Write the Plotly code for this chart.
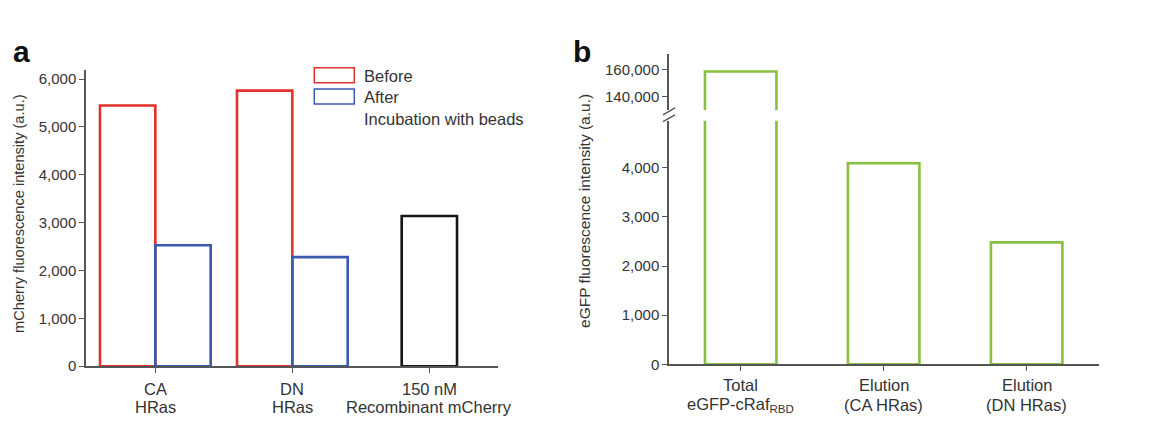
import plotly.graph_objects as go

# ---- data -------------------------------------------------------------
cat_a = [("CA", "HRas"), ("DN", "HRas"), ("150 nM", "Recombinant mCherry")]
before_vals = [5450, 5760]          # mCherry before incubation with beads
after_vals = [2530, 2280]           # mCherry after incubation with beads
standard_vals = [3140]              # 150 nM recombinant mCherry

cat_b = [("Total", "eGFP-cRaf<sub>RBD</sub>"), ("Elution", "(CA HRas)"),
         ("Elution", "(DN HRas)")]
egfp_vals = [158400, 4090, 2480]

ticks_a = [0, 1000, 2000, 3000, 4000, 5000, 6000]
ticks_b_low = [0, 1000, 2000, 3000, 4000]
ticks_b_high = [140000, 160000]

# ---- styling ----------------------------------------------------------
W, H = 1170, 423
FONT = "Liberation Sans, Arial, sans-serif"
TXT = "#333333"
AX = "#555555"
RED = "#e2312f"
BLUE = "#3a5aad"
GREEN = "#86c03f"
BLACK = "#161616"
LW = 2.6


def px_x(x):
    return x / W


def px_y(y):
    return (H - y) / H


idx_a = list(range(len(cat_a)))
idx_b = list(range(len(cat_b)))
bw_a = 0.404
bw_b = 0.50

fig = go.Figure()

# panel a: before / after pairs share a category tick at their common edge
fig.add_trace(go.Bar(x=idx_a[:2], y=before_vals, width=bw_a, offset=-bw_a,
                     marker=dict(color="rgba(0,0,0,0)", line=dict(color=RED, width=LW)),
                     name="Before", xaxis="x", yaxis="y"))
fig.add_trace(go.Bar(x=idx_a[:2], y=after_vals, width=bw_a, offset=0,
                     marker=dict(color="rgba(0,0,0,0)", line=dict(color=BLUE, width=LW)),
                     name="After", xaxis="x", yaxis="y"))
fig.add_trace(go.Bar(x=idx_a[2:], y=standard_vals, width=bw_a, offset=-bw_a / 2,
                     marker=dict(color="rgba(0,0,0,0)", line=dict(color=BLACK, width=LW)),
                     name="Standard", xaxis="x", yaxis="y"))

# panel b: broken axis -> same bars on a low and a high segment
for xa, ya in (("x2", "y2"), ("x3", "y3")):
    fig.add_trace(go.Bar(x=idx_b, y=egfp_vals, width=bw_b, offset=-bw_b / 2,
                         marker=dict(color="rgba(0,0,0,0)", line=dict(color=GREEN, width=LW)),
                         xaxis=xa, yaxis=ya))

tickfont = dict(family=FONT, size=15, color=TXT)
labfont = dict(family=FONT, size=16.5, color=TXT)

yax_common = dict(showline=True, linecolor=AX, linewidth=1.5, ticks="outside",
                  ticklen=5, tickcolor=AX, tickwidth=1.3, showgrid=False,
                  zeroline=False, tickfont=tickfont, tickformat=",d")
xax_common = dict(showline=True, linecolor=AX, linewidth=1.5, ticks="outside",
                  ticklen=5, tickcolor=AX, tickwidth=1.3, showgrid=False,
                  zeroline=False, showticklabels=False)

fig.update_layout(
    width=W, height=H,
    margin=dict(l=0, r=0, t=0, b=0),
    paper_bgcolor="white", plot_bgcolor="white",
    barmode="overlay", showlegend=False,
    font=dict(family=FONT, color=TXT),
    xaxis=dict(domain=[px_x(86), px_x(498)], range=[-0.506, 2.501],
               tickvals=idx_a, anchor="y", **xax_common),
    yaxis=dict(domain=[px_y(373.3), px_y(71.7)], range=[0, 6184],
               tickvals=ticks_a, anchor="x", **yax_common),
    xaxis2=dict(domain=[px_x(669), px_x(1099.3)], range=[-0.5014, 2.508],
                tickvals=idx_b, anchor="y2", **xax_common),
    yaxis2=dict(domain=[px_y(371.3), px_y(123)], range=[0, 4958],
                tickvals=ticks_b_low, anchor="x2", **yax_common),
    xaxis3=dict(domain=[px_x(669), px_x(1099.3)], range=[-0.5014, 2.508],
                visible=False, anchor="y3", matches="x2"),
    yaxis3=dict(domain=[px_y(112), px_y(55)], range=[130200, 171300],
                tickvals=ticks_b_high, anchor="x3", **yax_common),
)

annotations = [
    dict(text="<b>a</b>", x=px_x(11), y=px_y(53), xanchor="left", yanchor="middle",
         font=dict(family=FONT, size=30, color="#111111")),
    dict(text="<b>b</b>", x=px_x(571), y=px_y(53), xanchor="left", yanchor="middle",
         font=dict(family=FONT, size=30, color="#111111")),
    dict(text="mCherry fluorescence intensity (a.u.)", textangle=-90,
         x=px_x(19), y=px_y(218), xanchor="center", yanchor="middle",
         font=dict(family=FONT, size=14.6, color=TXT)),
    dict(text="eGFP fluorescence intensity (a.u.)", textangle=-90,
         x=px_x(585), y=px_y(215), xanchor="center", yanchor="middle",
         font=dict(family=FONT, size=15.5, color=TXT)),
    dict(text="Before", x=px_x(362), y=px_y(77), xanchor="left", yanchor="middle",
         font=labfont),
    dict(text="After", x=px_x(362), y=px_y(98.5), xanchor="left", yanchor="middle",
         font=labfont),
    dict(text="Incubation with beads", x=px_x(362), y=px_y(121), xanchor="left",
         yanchor="middle", font=labfont),
]
for a in annotations:
    a.update(xref="paper", yref="paper")

# two-line category labels under each axis, placed at the category positions
for i, (l1, l2) in zip(idx_a, cat_a):
    annotations.append(dict(text=l1, x=i, xref="x", y=px_y(396.5), yref="paper",
                            xanchor="center", yanchor="middle", font=labfont))
    annotations.append(dict(text=l2, x=i, xref="x", y=px_y(415), yref="paper",
                            xanchor="center", yanchor="middle", font=labfont))
for i, (l1, l2) in zip(idx_b, cat_b):
    annotations.append(dict(text=l1, x=i, xref="x2", y=px_y(392), yref="paper",
                            xanchor="center", yanchor="middle", font=labfont))
    annotations.append(dict(text=l2, x=i, xref="x2", y=px_y(413), yref="paper",
                            xanchor="center", yanchor="middle", font=labfont))
for a in annotations:
    a["showarrow"] = False
fig.update_layout(annotations=annotations)

shapes = [
    # legend swatches
    dict(type="rect", x0=px_x(314.3), x1=px_x(354.3), y0=px_y(84.3), y1=px_y(69),
         line=dict(color=RED, width=1.5)),
    dict(type="rect", x0=px_x(314.3), x1=px_x(354.3), y0=px_y(106), y1=px_y(90.7),
         line=dict(color=BLUE, width=1.5)),
    # axis break marks
    dict(type="line", x0=px_x(663), x1=px_x(675), y0=px_y(117), y1=px_y(110),
         line=dict(color=AX, width=1.4)),
    dict(type="line", x0=px_x(663), x1=px_x(675), y0=px_y(124), y1=px_y(117),
         line=dict(color=AX, width=1.4)),
]
for s in shapes:
    s.update(xref="paper", yref="paper")
fig.update_layout(shapes=shapes)

fig.write_html("out.html")
